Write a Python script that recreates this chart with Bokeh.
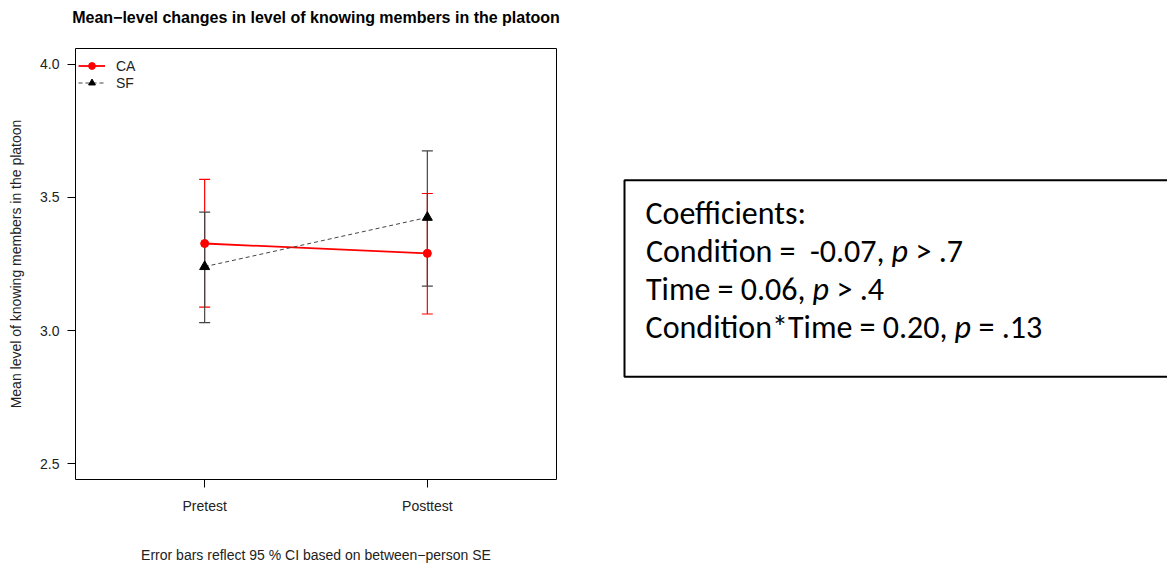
from bokeh.plotting import figure
from bokeh.layouts import row
from bokeh.models import (Range1d, FixedTicker, Whisker, TeeHead, ColumnDataSource,
                          Legend, LegendItem, PrintfTickFormatter)
from bokeh.core.properties import value
from bokeh.embed import file_html
from bokeh.resources import INLINE

# ---------------- data ----------------
times = ["Pretest", "Posttest"]
time_pos = [1, 2]
ca_mean = [3.327, 3.290]
ca_lower = [3.088, 3.062]
ca_upper = [3.568, 3.515]
sf_mean = [3.240, 3.425]
sf_lower = [3.030, 3.167]
sf_upper = [3.445, 3.675]
y_ticks = [2.5, 3.0, 3.5, 4.0]

coef_terms = ["Condition", "Time", "Condition*Time"]
coef_est = ["-0.07", "0.06", "0.20"]
coef_rel = [">", ">", "="]
coef_p = [".7", ".4", ".13"]

RED = "#FF0000"
DARK = "#444444"
TOP = 48      # frame top (px)
BOTTOM = 85   # space below frame (px)

# ---------------- main chart ----------------
p = figure(width=600, height=565,
           x_range=Range1d(0.42, 2.58), y_range=Range1d(2.44, 4.06),
           output_backend="svg", toolbar_location=None,
           min_border_left=75, min_border_right=44,
           min_border_top=TOP, min_border_bottom=BOTTOM)
p.background_fill_color = "white"
p.border_fill_color = "white"
p.outline_line_color = "black"
p.outline_line_width = 1
p.grid.visible = False

p.title.text = "Mean\u2212level changes in level of knowing members in the platoon"
p.title.align = "center"
p.title.vertical_align = "top"
p.title.text_font = "Liberation Sans"
p.title.text_font_size = "16px"
p.title.text_font_style = "bold"
p.title.text_color = "black"
p.title.standoff = 0
p.title.padding = dict(left=0, right=0, top=0, bottom=21)

for ax in (p.xaxis[0], p.yaxis[0]):
    ax.axis_line_color = None
    ax.major_tick_line_color = "black"
    ax.major_tick_out = 8
    ax.major_tick_in = 0
    ax.minor_tick_line_color = None
    ax.major_label_text_font = "Liberation Sans"
    ax.major_label_text_font_size = "14px"
    ax.major_label_text_color = "#222222"
    ax.axis_label_text_font = "Liberation Sans"
    ax.axis_label_text_font_style = "normal"
    ax.axis_label_text_color = "#222222"

p.yaxis.ticker = FixedTicker(ticks=y_ticks)
p.yaxis.formatter = PrintfTickFormatter(format="%.1f")
p.yaxis.major_label_standoff = 8
p.yaxis.axis_label = "Mean level of knowing members in the platoon"
p.yaxis.axis_label_text_font_size = "14px"
p.yaxis.axis_label_standoff = 13

p.xaxis.ticker = FixedTicker(ticks=time_pos)
p.xaxis.major_label_overrides = {t: lab for t, lab in zip(time_pos, times)}
p.xaxis.major_label_standoff = 10
p.xaxis.axis_label = "Error bars reflect 95 % CI based on between\u2212person SE"
p.xaxis.axis_label_text_font_size = "14px"
p.xaxis.axis_label_standoff = 30

ca_src = ColumnDataSource(dict(x=time_pos, y=ca_mean, lo=ca_lower, hi=ca_upper))
sf_src = ColumnDataSource(dict(x=time_pos, y=sf_mean, lo=sf_lower, hi=sf_upper))

for src, col in ((ca_src, RED), (sf_src, DARK)):
    w = Whisker(source=src, base="x", lower="lo", upper="hi",
                line_color=col, line_width=1.2,
                upper_head=TeeHead(size=11, line_color=col, line_width=1.2),
                lower_head=TeeHead(size=11, line_color=col, line_width=1.2),
                level="underlay")
    p.add_layout(w)

ca_line = p.line("x", "y", source=ca_src, line_color=RED, line_width=1.8)
sf_line = p.line("x", "y", source=sf_src, line_color=DARK, line_width=1,
                 line_dash="4 3")
ca_pts = p.scatter("x", "y", source=ca_src, marker="circle", size=8,
                   fill_color=RED, line_color=RED)
sf_pts = p.scatter("x", "y", source=sf_src, marker="triangle", size=10,
                   fill_color="black", line_color="black")

legend = Legend(items=[LegendItem(label="CA", renderers=[ca_line, ca_pts]),
                       LegendItem(label="SF", renderers=[sf_line, sf_pts])],
                location=(3, 388), padding=0, margin=0, spacing=0,
                glyph_width=27, glyph_height=17, label_standoff=11,
                label_text_font="Liberation Sans", label_text_font_size="14px",
                label_text_color="#222222", label_height=17,
                border_line_alpha=0, background_fill_alpha=0)
p.add_layout(legend)

# ---------------- coefficient box ----------------
# the row aligns frames, so this figure's frame spans screen y TOP..(565-BOTTOM);
# ranges are set so one unit = one screen pixel
q = figure(width=567, height=565, x_range=Range1d(0, 567),
           y_range=Range1d(565 - BOTTOM, TOP),
           output_backend="svg", toolbar_location=None,
           min_border_left=0, min_border_right=0,
           min_border_top=TOP, min_border_bottom=BOTTOM,
           x_axis_location=None, y_axis_location=None)
q.grid.visible = False
q.outline_line_color = None
q.background_fill_color = "white"
q.border_fill_color = "white"

q.quad(left=[24], right=[600], top=[180], bottom=[377], fill_color=None,
       line_color="black", line_width=2)

BOXFONT = value("Carlito, Calibri, Lato")
FS = "32px"
q.text(x=[45], y=[213], text=["Coefficients:"], text_font=BOXFONT,
       text_font_size=FS, text_baseline="alphabetic", text_align="left",
       text_color="black")

p_left = [291, 212, 354]
baselines = [251, 290, 328]
prefixes, suffixes = [], []
for term, est, rel, pv in zip(coef_terms, coef_est, coef_rel, coef_p):
    gap = "\u00a0 " if est.startswith("-") else " "
    prefixes.append(f"{term} ={gap}{est},")
    suffixes.append(f"{rel} {pv}")
pre_x = [x - 7 for x in p_left]
suf_x = [x + 24 for x in p_left]
q.text(x=pre_x, y=baselines, text=prefixes, text_font=BOXFONT, text_font_size=FS,
       text_baseline="alphabetic", text_align="right", text_color="black")
q.text(x=p_left, y=baselines, text=["p"] * 3, text_font=BOXFONT, text_font_size=FS,
       text_font_style="italic", text_baseline="alphabetic", text_align="left",
       text_color="black")
q.text(x=suf_x, y=baselines, text=suffixes, text_font=BOXFONT, text_font_size=FS,
       text_baseline="alphabetic", text_align="left", text_color="black")

layout = row(p, q)
open("out.html", "w").write(file_html(layout, INLINE))
